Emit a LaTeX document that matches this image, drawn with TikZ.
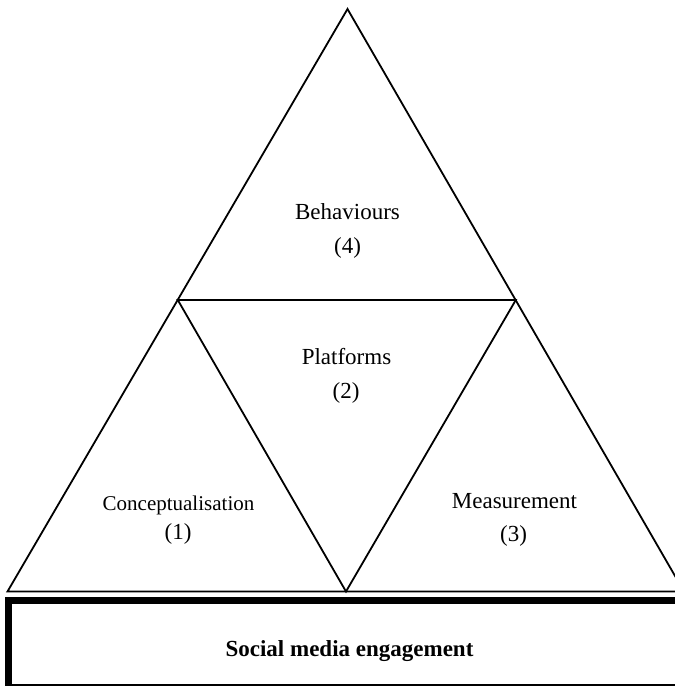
\documentclass[tikz,border=0pt]{standalone}
\usepackage{fontspec}
\setmainfont{Liberation Serif}
\begin{document}
\begin{tikzpicture}[x=1pt,y=-1pt,
  edge/.style={line width=1.8pt, line join=miter},
  lbl/.style={anchor=base, inner sep=0pt, font=\fontsize{23}{27}\selectfont},
  lblsmall/.style={anchor=base, inner sep=0pt, font=\fontsize{21}{25}\selectfont},
  basebox/.style={line width=6.5pt}]
\useasboundingbox (0,0) rectangle (675,686);
% vertices
\coordinate (A) at (347.5,9);
\coordinate (L) at (7.5,591.5);
\coordinate (R) at (684,591.5);
\coordinate (ML) at (177.8,300);
\coordinate (MR) at (515.8,300);
\coordinate (BM) at (346,591.5);
\draw[edge] (A) -- (L) -- (R) -- cycle;
\draw[edge] (ML) -- (MR) -- (BM) -- cycle;
% base box
\coordinate (B1) at (8.5,600.3);
\coordinate (B2) at (700,687);
\draw[basebox] (B1) rectangle (B2);
% labels
\node[lbl] (beh) at (347.5,219) {Behaviours};
\node[lbl] (beh4) at (347.5,253) {(4)};
\node[lbl] (pla) at (346.5,364) {Platforms};
\node[lbl] (pla2) at (346,398) {(2)};
\node[lblsmall] (con) at (178.5,510) {Conceptualisation};
\node[lbl] (con1) at (178,539) {(1)};
\node[lbl] (mea) at (514.5,508) {Measurement};
\node[lbl] (mea3) at (513.5,541) {(3)};
\node[lbl, font=\fontsize{23}{27}\selectfont\bfseries] (sme) at (349.5,656) {Social media engagement};
\end{tikzpicture}
\end{document}
